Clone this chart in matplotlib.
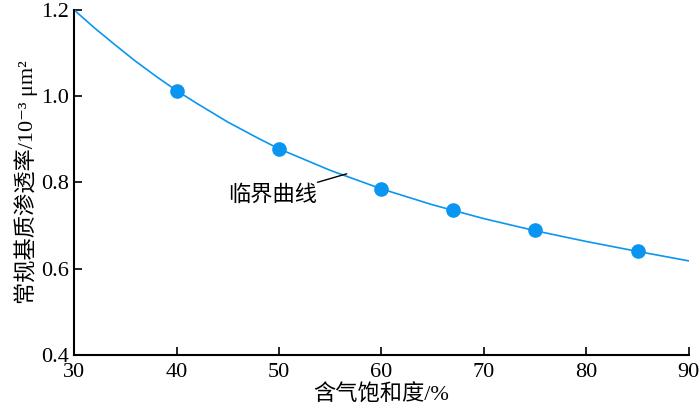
import matplotlib
matplotlib.use("Agg")
import matplotlib.pyplot as plt

plt.rcParams['font.family'] = ['Liberation Serif', 'Noto Sans CJK SC', 'DejaVu Sans']

# measured points
sat = [40, 50, 60, 67, 75, 85]
perm = [1.013, 0.878, 0.784, 0.737, 0.689, 0.641]

# critical curve
curve_x = [30, 32, 34, 36, 38, 40, 42, 45, 48, 50, 55, 60, 65, 70, 75, 80, 85, 90]
curve_y = [1.200, 1.158, 1.119, 1.081, 1.046, 1.013, 0.983, 0.940, 0.902, 0.878,
           0.828, 0.785, 0.748, 0.716, 0.688, 0.663, 0.640, 0.618]

blue = "#0a96f0"

fig = plt.figure(figsize=(7, 4.17), dpi=100)
ax = fig.add_axes([0.106, 0.149, 0.878, 0.827])

ax.plot(curve_x, curve_y, color=blue, linewidth=1.2, zorder=2)
ax.plot(sat, perm, 'o', color=blue, markersize=9.5, zorder=3)

ax.annotate("临界曲线", xy=(56.6, 0.82), xytext=(53.7, 0.77),
            fontsize=16, ha='right', va='center',
            arrowprops=dict(arrowstyle='-', color='black', lw=1.0,
                            shrinkA=0, shrinkB=0))

ax.set_xlim(30, 90)
ax.set_ylim(0.4, 1.2)
ax.set_xticks([30, 40, 50, 60, 70, 80, 90])
ax.set_yticks([0.4, 0.6, 0.8, 1.0, 1.2])
ax.set_yticklabels(["0.4", "0.6", "0.8", "1.0", "1.2"])
ax.tick_params(direction='in', length=6, width=1.2, labelsize=16)
ax.tick_params(axis='x', pad=6)
ax.tick_params(axis='y', pad=4)
for s in ['top', 'right']:
    ax.spines[s].set_visible(False)
for s in ['left', 'bottom']:
    ax.spines[s].set_linewidth(1.5)

ax.set_xlabel("含气饱和度/%", fontsize=16, labelpad=2)
ax.set_ylabel("常规基质渗透率/10⁻³ μm²", fontsize=16, labelpad=2)

fig.savefig("out.png", dpi=100)
